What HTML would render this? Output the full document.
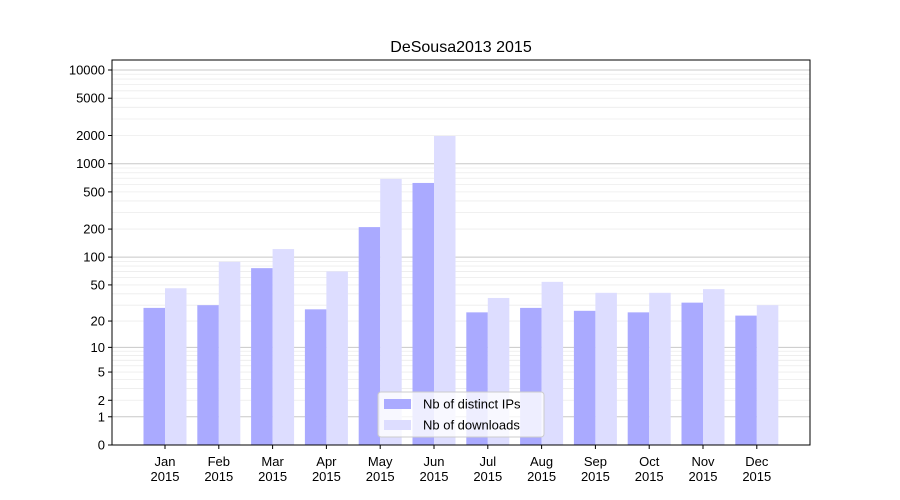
<!DOCTYPE html>
<html><head><meta charset="utf-8"><style>body{margin:0;background:#fff}svg{display:block;font-family:"Liberation Sans","DejaVu Sans",sans-serif}</style></head>
<body>
<svg id="c" width="900" height="500"></svg>
<script>
const months=["Jan","Feb","Mar","Apr","May","Jun","Jul","Aug","Sep","Oct","Nov","Dec"];
const yearLabel="2015";
const ips=[28,30,76,27,210,623,25,28,26,25,32,23];
const downloads=[46,89,122,70,688,1977,36,54,41,41,45,30];
const yTicks=[0,1,2,5,10,20,50,100,200,500,1000,2000,5000,10000];
const svg=document.getElementById('c');const NS="http://www.w3.org/2000/svg";
function mk(t,a,p){const e=document.createElementNS(NS,t);for(const k in a)e.setAttribute(k,a[k]);(p||svg).appendChild(e);return e;}
const L=112,R=810,T=60,B=445;
function y(v){return B-93.75*Math.log10(v+1);}
function xc(i){return 165+i*53.8;}
const grid=mk('g',{});
for(let d=1;d<=10000;d*=10){for(let m=1;m<10;m++){const v=d*m;if(v>13000)break;const yy=y(v);
const ln=mk('line',{x1:L,x2:R,y1:yy,y2:yy,stroke:m==1?'#c8c8c8':'#ececec','stroke-width':m==1?1:0.8},grid);
}}
const bars=mk('g',{});
months.forEach((m,i)=>{const c=xc(i);
const b1=mk('rect',{x:c-21.5,y:y(ips[i]),width:21.5,height:B-y(ips[i]),fill:'#aaaaff'},bars);

const b2=mk('rect',{x:c,y:y(downloads[i]),width:21.5,height:B-y(downloads[i]),fill:'#ddddff'},bars);

const tk=mk('line',{x1:c,x2:c,y1:B,y2:B+4,stroke:'#000'});
const t=mk('text',{x:c,y:B+21,'text-anchor':'middle','font-size':13});
const s1=mk('tspan',{x:c},t);s1.textContent=m;const s2=mk('tspan',{x:c,dy:15},t);s2.textContent=yearLabel;});
yTicks.forEach(v=>{const yy=y(v);
const tk=mk('line',{x1:L-4,x2:L,y1:yy,y2:yy,stroke:'#000'});
const t=mk('text',{x:L-7,y:yy+4.5,'text-anchor':'end','font-size':13});t.textContent=v;});
const fr=mk('rect',{x:L,y:T,width:R-L,height:B-T,fill:'none',stroke:'#000'});
const ti=mk('text',{x:461,y:52,'text-anchor':'middle','font-size':16});ti.textContent="DeSousa2013 2015";
const lg=mk('g',{});
mk('rect',{x:378,y:392,width:166,height:45,rx:3,fill:'#fff','fill-opacity':0.8,stroke:'#ccc'},lg);
[['#aaaaff','Nb of distinct IPs',404],['#ddddff','Nb of downloads',425]].forEach(([c,l,yy])=>{
const e=mk('g',{},lg);
mk('rect',{x:384,y:yy-5,width:27,height:10,fill:c},e);
const t=mk('text',{x:423,y:yy+4.5,'font-size':13},e);t.textContent=l;});
</script>
</body></html>
